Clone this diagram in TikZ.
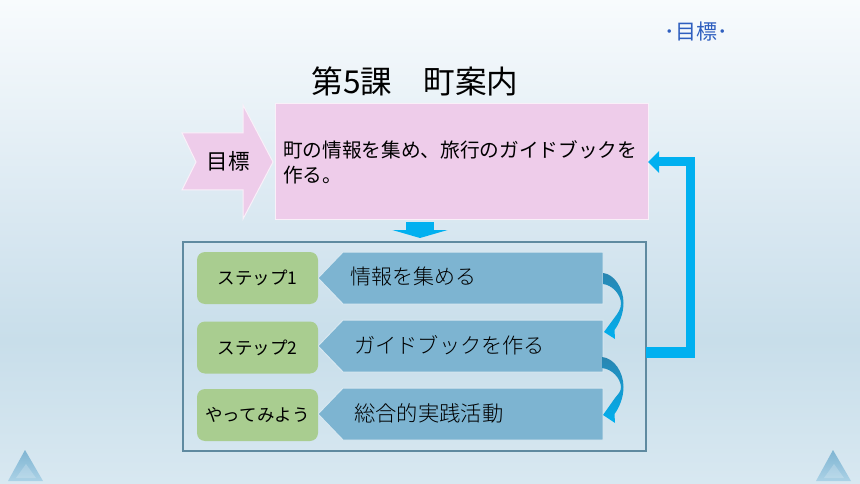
\documentclass[tikz,border=0pt]{standalone}
\usepackage{fontspec}
\setmainfont{Noto Sans CJK JP}
\newfontfamily\lightjp{Noto Sans CJK JP Light}
\newcommand{\fs}[1]{\fontsize{#1pt}{#1pt}\selectfont}
\usetikzlibrary{arrows.meta}
\definecolor{pinkbox}{HTML}{EECCEA}
\definecolor{greenbox}{HTML}{A9CD90}
\definecolor{bluebox}{HTML}{7DB4D1}
\definecolor{framecol}{HTML}{5F8AA0}
\definecolor{cyanarrow}{HTML}{00B0F0}
\definecolor{darkarrow}{HTML}{2A85B0}
\definecolor{toplabel}{HTML}{2F5FBF}
\definecolor{bgtop}{HTML}{F8FBFD}
\definecolor{bgmid}{HTML}{D6E6F0}
\definecolor{bglow}{HTML}{C8DEEA}
\definecolor{bgend}{HTML}{D8E8F1}
\definecolor{cornertop}{HTML}{7FB4D2}
\definecolor{cornerlow}{HTML}{ABD2E6}
\tikzset{
  x=1pt,y=-1pt,
  goalbox/.style={fill=pinkbox,draw=white!70!pinkbox,line width=1pt,inner sep=0pt,outer sep=0pt},
  stepbox/.style={fill=greenbox,rounded corners=8pt,minimum width=121pt,minimum height=52pt,inner sep=0pt,outer sep=0pt,text=black},
  pentagon/.style={fill=bluebox,draw=white!70!bluebox,line width=1pt},
  tasklabel/.style={inner sep=0pt,anchor=west,text=black},
  bluearrow/.style={draw=cyanarrow,line width=9pt},
  curved/.style={top color=darkarrow,bottom color=cyanarrow,draw=none}
}
\begin{document}
\begin{tikzpicture}
\useasboundingbox (0,0) rectangle (860,484);
% background
\shade[top color=bgtop,bottom color=bgmid] (0,0) rectangle (860,240);
\shade[top color=bgmid,bottom color=bglow] (0,240) rectangle (860,340);
\shade[top color=bglow,bottom color=bgend] (0,340) rectangle (860,484);
% corner marks
\foreach \dx in {0,808}{
  \shade[top color=cornertop,bottom color=cornerlow] (\dx+25,450) -- (\dx+43,481) -- (\dx+8,481) -- cycle;
  \fill[white,opacity=.2] (\dx+26,464) -- (\dx+36,478) -- (\dx+16,478) -- cycle;
}
% labels
\node[inner sep=0pt,text=toplabel] (top) at (696,32) {\fs{21}･目標･};
\node[inner sep=0pt] (title) at (415,81) {\fs{31.6}第5課　町案内};
% goal
\path[fill=pinkbox,draw=white!70!pinkbox,line width=1pt] (182,133) -- (243,133) -- (243,105) -- (273,162) -- (243,219) -- (243,190) -- (182,190) -- (196,162) -- cycle;
\node[inner sep=0pt] (goal) at (228,161) {\fs{21.5}目標};
\node[goalbox,minimum width=373pt,minimum height=115pt] (target) at (461.5,161.5) {};
\node[inner sep=0pt,anchor=west,align=left,font=\fontsize{19.67pt}{25pt}\selectfont] (targettext) at (283,162.2) {町の情報を集め、旅行のガイドブックを\\作る。};
% frame
\node[draw=framecol,line width=2pt,minimum width=463pt,minimum height=209pt,inner sep=0pt,outer sep=0pt] (frame) at (414.5,346) {};
% down arrow
\coordinate (downstart) at (420,222);
\coordinate (downend) at (420,238);
\draw[draw=cyanarrow,line width=28pt,-{Triangle[length=8pt,width=55pt]}] (downstart) -- (downend);
% pentagons
\path[pentagon] (318,278) -- (343,252) -- (603,252) -- (603,304) -- (343,304) -- cycle;
\path[pentagon] (318,346) -- (343,320) -- (603,320) -- (603,372) -- (343,372) -- cycle;
\path[pentagon] (318,414) -- (343,388) -- (603,388) -- (603,440) -- (343,440) -- cycle;
% green steps
\node[stepbox] (s1) at (257.5,278) {\fs{17.5}ステップ1};
\node[stepbox] (s2) at (257.5,347.5) {\fs{17.5}ステップ2};
\node[stepbox] (s3) at (257.5,415) {\fs{17.5}やってみよう};
\node[tasklabel] (t1) at (350,277) {\lightjp\fs{21}情報を集める};
\node[tasklabel] (t2) at (354,345) {\lightjp\fs{21.2}ガイドブックを作る};
\node[tasklabel] (t3) at (354,413) {\lightjp\fs{21.3}総合的実践活動};
% curved arrows
\path[curved] (603,273) .. controls (614,274) and (623.5,288) .. (623.5,303)
  .. controls (623.5,314) and (619,324) .. (614.5,330) -- (615,339) -- (604,332) -- (615,317)
  .. controls (618,313) and (621,309) .. (621,303) .. controls (620.5,294) and (612,285) .. (603,284) -- cycle;
\path[curved] (602,357) .. controls (614,358) and (623.5,372) .. (623.5,387)
  .. controls (623.5,398) and (619,408) .. (614.5,414) -- (615,423) -- (603,415) -- (615,398)
  .. controls (618,394) and (621,392) .. (621,387) .. controls (620.5,378) and (612,369) .. (602,368) -- cycle;
% feedback arrow
\coordinate (fbstart) at (646,352.5);
\draw[bluearrow] (fbstart) -- ++(44,0) |- (659,161.5);
\fill[cyanarrow] (646,347) rectangle (694.5,358);
\fill[cyanarrow] (648,162) -- (659,151) -- (659,173) -- cycle;
\end{tikzpicture}
\end{document}
